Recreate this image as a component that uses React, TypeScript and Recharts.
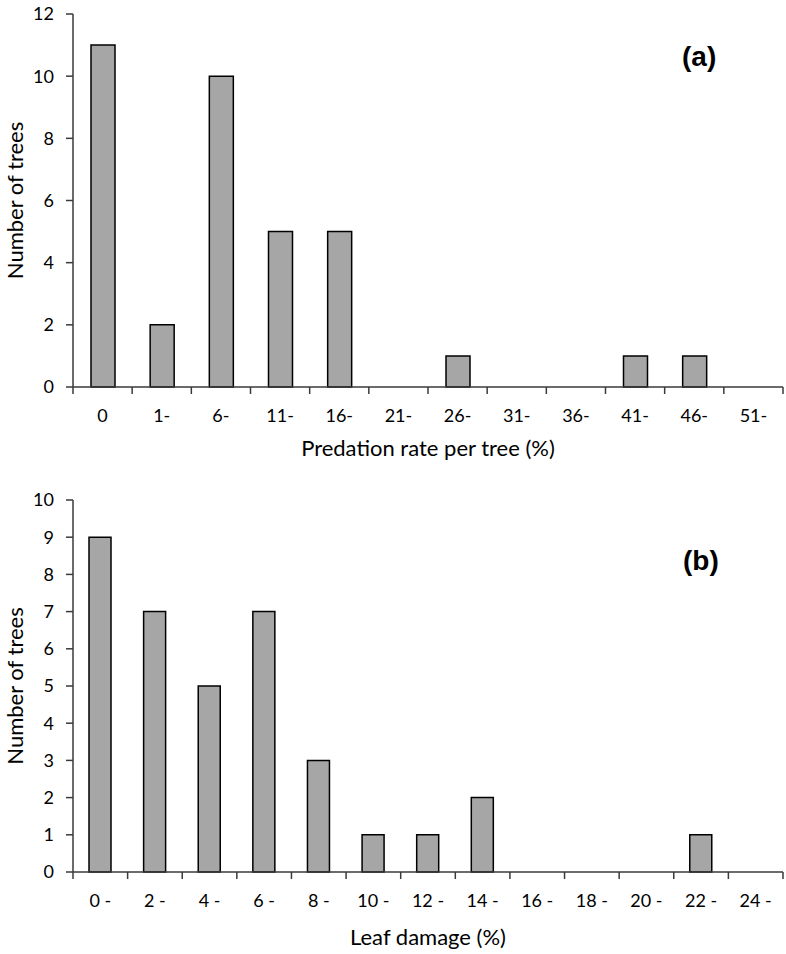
import React from 'react';
import { BarChart, Bar, XAxis, YAxis } from 'recharts';

const predationBins = ['0', '1-', '6-', '11-', '16-', '21-', '26-', '31-', '36-', '41-', '46-', '51-'];
const predationTrees = [11, 2, 10, 5, 5, 0, 1, 0, 0, 1, 1, 0];
const predationYTicks = [0, 2, 4, 6, 8, 10, 12];

const damageBins = ['0 -', '2 -', '4 -', '6 -', '8 -', '10 -', '12 -', '14 -', '16 -', '18 -', '20 -', '22 -', '24 -'];
const damageTrees = [9, 7, 5, 7, 3, 1, 1, 2, 0, 0, 0, 1, 0];
const damageYTicks = [0, 1, 2, 3, 4, 5, 6, 7, 8, 9, 10];

const FONT = 'Lato, "Open Sans", sans-serif';
const AXIS = '#3a3a3a';

type PanelProps = {
  bins: string[];
  values: number[];
  yTicks: number[];
  xTitle: string;
  height: number;
  margin: { top: number; right: number; left: number; bottom: number };
  xAxisHeight: number;
  titleOffset: number;
  barSize: number;
};

// bars sit on a numeric axis (bin i centred at i + 0.5) so tick marks can fall on bin edges
function Panel({ bins, values, yTicks, xTitle, height, margin, xAxisHeight, titleOffset, barSize }: PanelProps) {
  const data = bins.map((b, i) => ({ x: i + 0.5, bin: b, count: values[i] }));
  const xTicks: number[] = [];
  for (let i = 0; i <= bins.length * 2; i++) xTicks.push(i / 2);

  const renderTick = (props: any) => {
    const { x, y, payload } = props;
    const v = payload.value as number;
    if (Number.isInteger(v)) {
      return <line x1={x} y1={y} x2={x} y2={y + 7} stroke={AXIS} strokeWidth={1.5} />;
    }
    return (
      <text x={x} y={y + 28} textAnchor="middle" dominantBaseline="central" fontSize={18} fill="#000" fontFamily={FONT}>
        {bins[Math.floor(v)]}
      </text>
    );
  };

  return (
    <BarChart width={786} height={height} data={data} margin={margin}>
      <XAxis
        dataKey="x"
        type="number"
        domain={[0, bins.length]}
        ticks={xTicks}
        interval={0}
        tickLine={false}
        tickSize={0}
        tickMargin={0}
        tick={renderTick}
        stroke={AXIS}
        strokeWidth={1.5}
        height={xAxisHeight}
        label={{ value: xTitle, position: 'insideBottom', offset: titleOffset, fontSize: 22, fill: '#000', fontFamily: FONT }}
      />
      <YAxis
        domain={[0, yTicks[yTicks.length - 1]]}
        ticks={yTicks}
        interval={0}
        width={73}
        tickSize={7}
        tickMargin={12}
        stroke={AXIS}
        strokeWidth={1.5}
        tick={{ fontSize: 18, fill: '#000', fontFamily: FONT }}
        label={{
          value: 'Number of trees',
          angle: -90,
          position: 'insideLeft',
          offset: 15,
          fontSize: 22,
          fill: '#000',
          fontFamily: FONT,
          style: { textAnchor: 'middle' },
        }}
      />
      <Bar dataKey="count" fill="#a6a6a6" stroke="#000" strokeWidth={1.5} barSize={barSize} isAnimationActive={false} />
    </BarChart>
  );
}

const panelLetter: React.CSSProperties = {
  position: 'absolute',
  fontFamily: 'Arial, "Liberation Sans", sans-serif',
  fontWeight: 'bold',
  fontSize: 28,
  lineHeight: '28px',
  color: '#000',
};

export default function App() {
  return (
    <div style={{ position: 'absolute', left: 0, top: 0, width: 786, height: 954, background: '#fff', fontFamily: FONT }}>
      <Panel
        bins={predationBins}
        values={predationTrees}
        yTicks={predationYTicks}
        xTitle="Predation rate per tree (%)"
        height={475}
        margin={{ top: 14, right: 3, left: 0, bottom: 18 }}
        xAxisHeight={70}
        titleOffset={1}
        barSize={24}
      />
      <div style={{ position: 'absolute', top: 475, left: 0 }}>
        <Panel
          bins={damageBins}
          values={damageTrees}
          yTicks={damageYTicks}
          xTitle="Leaf damage (%)"
          height={479}
          margin={{ top: 25, right: 3, left: 0, bottom: 8 }}
          xAxisHeight={74}
          titleOffset={1}
          barSize={22}
        />
      </div>
      <div style={{ ...panelLetter, left: 682, top: 43 }}>(a)</div>
      <div style={{ ...panelLetter, left: 683, top: 547 }}>(b)</div>
    </div>
  );
}
